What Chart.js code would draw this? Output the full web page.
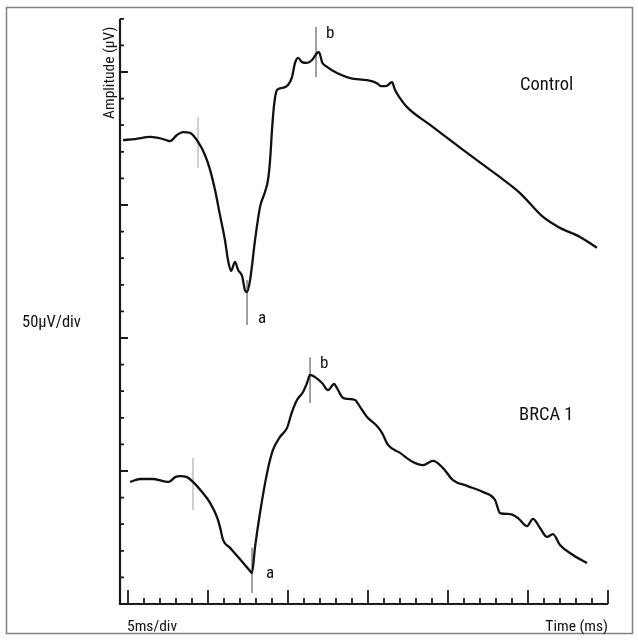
<!DOCTYPE html>
<html><head><meta charset="utf-8">
<script src="https://cdn.jsdelivr.net/npm/chart.js@4/dist/chart.umd.min.js"></script>
<style>html,body{margin:0;padding:0;background:#fff}canvas{display:block}</style>
</head><body>
<canvas id="c" width="638" height="640"></canvas>
<script>
// Time in ms (5 ms/div), amplitude in µV (50 µV/div, 10 µV minor)
const controlTime = [-0.31,0.44,1.38,2.19,2.63,3.06,3.44,3.88,4.38,4.81,5.13,5.44,5.75,6.06,6.25,6.44,6.69,6.88,7.13,7.31,7.44,7.63,7.94,8.25,8.56,8.75,8.88,9.0,9.13,9.31,9.63,10.0,10.25,10.44,10.63,10.88,11.19,11.5,11.81,11.94,12.13,12.44,13.06,13.88,14.94,15.56,15.81,16.13,16.5,16.69,17.0,17.44,18.88,20.94,23.06,24.5,25.94,27.0,28.25,29.31];
const controlAmp  = [174.4,174.8,175.6,174.8,174.0,176.3,177.4,177.1,173.7,168.8,163.2,155.6,146.2,136.8,129.3,125.2,128.6,125.6,123.3,118.0,117.3,121.8,136.8,149.2,154.9,159.4,166.9,178.2,187.6,193.2,194.0,195.1,198.1,203.4,205.3,203.7,203.4,204.5,207.1,207.5,203.7,201.9,199.6,197.7,196.9,195.8,194.7,194.7,196.2,193.2,190.2,186.8,180.1,170.7,161.3,154.5,145.5,141.4,138.0,133.9];
const brcaTime = [0.13,0.75,1.56,2.19,2.56,2.94,3.25,3.69,4.06,4.63,5.13,5.56,5.75,5.94,6.38,6.88,7.31,7.63,7.75,7.94,8.25,8.69,9.06,9.5,9.94,10.25,10.56,10.94,11.19,11.38,11.69,12.13,12.5,12.88,13.06,13.38,13.75,14.19,14.5,14.94,15.56,15.88,16.25,17.0,17.81,18.44,19.06,19.69,20.31,21.19,22.19,22.94,23.25,23.88,24.38,24.94,25.31,25.75,26.19,26.56,27.0,27.81,28.69];
const brcaAmp  = [45.9,47.0,47.0,46.2,45.9,47.7,48.1,47.7,45.9,42.1,38.0,32.7,28.9,24.1,21.1,17.7,14.7,12.4,11.7,21.4,34.2,49.2,57.9,62.8,66.2,72.2,76.7,79.7,83.1,86.1,85.3,83.1,80.4,82.7,81.2,77.8,77.1,76.7,74.1,70.3,66.9,64.3,59.8,56.8,53.4,52.2,53.8,51.1,46.6,44.4,42.1,39.1,34.2,33.8,32.3,29.3,32.0,28.6,25.2,26.3,22.2,18.4,15.4];
// vertical marker lines: [time, low amplitude, high amplitude]
const controlMarkers = [[4.38,163.9,183.1],[7.44,104.9,121.8],[11.75,198.1,216.9]];
const brcaMarkers    = [[4.06,35.3,54.9],[7.75,4.1,21.1],[11.38,75.6,92.8]];
const markerShades   = ['#c4c4c4','#8a8a8a','#8a8a8a'];
const xTicksMinor = 1, xTicksMajor = 5;   // ms
const yTicksMinor = 10, yTicksMajor = 50; // µV

const FONT = '"Liberation Sans Narrow","Arial Narrow","Roboto Condensed","Liberation Sans",sans-serif';

function pts(xs, ys){ return xs.map((x,i)=>({x:x,y:ys[i]})); }
const datasets = [
  {data:pts(controlTime,controlAmp),borderColor:'#111',borderWidth:2.3,pointRadius:0,cubicInterpolationMode:'monotone',order:0},
  {data:pts(brcaTime,brcaAmp),borderColor:'#111',borderWidth:2.3,pointRadius:0,cubicInterpolationMode:'monotone',order:0}
];
[controlMarkers,brcaMarkers].forEach(ms=>ms.forEach((m,i)=>{
  datasets.push({data:[{x:m[0],y:m[1]},{x:m[0],y:m[2]}],borderColor:markerShades[i],borderWidth:1.6,pointRadius:0,order:1});
}));

const labels = [
  {t:'a',x:8.13,y:105.6,s:17},{t:'b',x:12.38,y:212.8,s:17},
  {t:'a',x:8.63,y:9.8,s:17},{t:'b',x:12.0,y:88.7,s:17},
  {t:'Control',x:24.5,y:193.2,s:18.5},{t:'BRCA 1',x:24.44,y:69.2,s:18.5}
];

const decor = {
  id:'decor',
  afterDraw(chart){
    const c = chart.ctx, xs = chart.scales.x, ys = chart.scales.y, a = chart.chartArea;
    c.save();
    // frame
    c.strokeStyle = '#808080'; c.lineWidth = 1.5;
    c.strokeRect(6.5,7.5,626,626);
    // axes
    c.strokeStyle = '#1a1a1a'; c.lineWidth = 2.2;
    c.beginPath();
    c.moveTo(a.left, a.top); c.lineTo(a.left, a.bottom); c.lineTo(a.right, a.bottom);
    c.stroke();
    c.lineWidth = 1.8;
    c.beginPath();
    for(let v=0; v<=ys.max+0.01; v+=yTicksMinor){
      const py = ys.getPixelForValue(v);
      const len = (Math.round(v)%yTicksMajor===0)?8:4;
      c.moveTo(a.left, py); c.lineTo(a.left+len, py);
    }
    for(let v=0; v<=xs.max+0.01; v+=xTicksMinor){
      const px = xs.getPixelForValue(v);
      const len = (Math.round(v)%xTicksMajor===0)?14:6;
      c.moveTo(px, a.bottom); c.lineTo(px, a.bottom-len);
    }
    c.stroke();
    // labels
    c.fillStyle = '#111'; c.textBaseline = 'alphabetic'; c.textAlign = 'left';
    labels.forEach(l=>{
      c.font = l.s+'px '+FONT;
      c.fillText(l.t, xs.getPixelForValue(l.x), ys.getPixelForValue(l.y));
    });
    c.font = '15.5px '+FONT;
    c.fillText('5ms/div', a.left+7, a.bottom+27);
    c.textAlign = 'right';
    c.fillText('Time (ms)', a.right, a.bottom+27);
    c.textAlign = 'left';
    c.font = '16.5px '+FONT;
    c.fillText('50\u00b5V/div', 22, 327);
    c.font = '15.5px '+FONT;
    c.save();
    c.translate(a.left-6, a.top+54);
    c.rotate(-Math.PI/2);
    c.textAlign = 'center';
    c.fillText('Amplitude (\u00b5V)', 0, 0);
    c.restore();
    c.restore();
  }
};

new Chart(document.getElementById('c'), {
  type:'line',
  data:{datasets:datasets},
  options:{
    responsive:false, animation:false, devicePixelRatio:1,
    layout:{padding:{left:120,right:30,top:18.8,bottom:36}},
    plugins:{legend:{display:false},tooltip:{enabled:false}},
    scales:{
      x:{type:'linear',min:-0.5,max:30,display:false},
      y:{type:'linear',min:0,max:220,display:false}
    }
  },
  plugins:[decor]
});
</script>
</body></html>
